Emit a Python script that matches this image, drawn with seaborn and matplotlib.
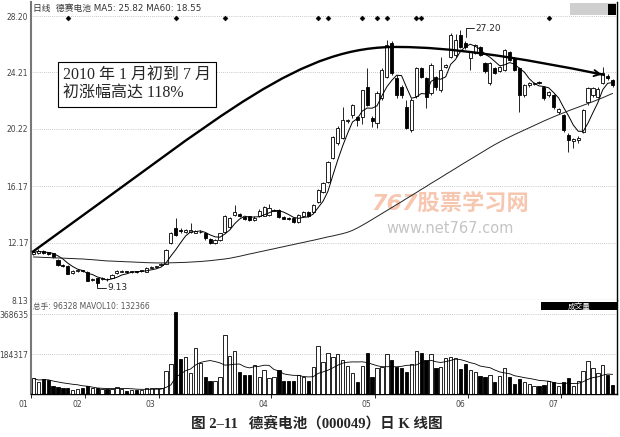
import numpy as np
import pandas as pd
import matplotlib
matplotlib.use("Agg")
import matplotlib.pyplot as plt
import matplotlib.transforms as mtransforms
from matplotlib.path import Path
from matplotlib.patches import PathPatch, Rectangle
import seaborn as sns

# daily K data (mid Jan - mid Jul 2010)
opens = [11.40, 11.45, 11.62, 11.50, 11.42, 10.98, 10.62, 10.55, 10.05, 10.18,
         10.22, 10.10, 9.55, 9.68, 9.62, 9.60, 9.70, 10.02, 10.12, 10.15,
         10.10, 10.15, 10.15, 10.12, 10.42, 10.46, 10.60, 10.70, 12.15, 13.25,
         13.10, 12.95, 12.95, 12.90, 12.92, 12.90, 12.45, 12.15, 12.35, 12.95,
         13.30, 14.15, 14.20, 14.00, 14.05, 13.75, 14.05, 14.10, 14.15, 14.45,
         14.50, 14.02, 13.95, 13.90, 13.65, 14.05, 14.35, 14.35, 15.06, 15.76,
         16.47, 18.17, 19.20, 19.58, 20.75, 21.20, 21.05, 21.06, 23.18, 21.00,
         20.64, 22.41, 23.89, 26.29, 23.82, 23.18, 21.77, 20.14, 22.55, 24.53,
         23.82, 22.76, 23.89, 22.97, 24.60, 25.30, 25.44, 26.86, 26.29, 25.23,
         25.59, 26.00, 24.88, 23.47, 24.53, 24.31, 24.38, 25.66, 25.23, 24.53,
         22.62, 23.32, 23.40, 23.55, 23.18, 22.62, 22.62, 21.45, 21.20, 19.79,
         19.40, 19.44, 20.00, 22.12, 22.62, 22.48, 23.47, 23.95, 23.68]
highs = [11.60, 11.72, 11.66, 11.55, 11.48, 11.02, 10.66, 10.60, 10.28, 10.30,
         10.28, 10.15, 9.70, 9.72, 9.78, 9.68, 9.95, 10.22, 10.22, 10.20,
         10.20, 10.20, 10.28, 10.45, 10.52, 10.56, 10.76, 11.70, 12.95, 13.92,
         13.20, 13.15, 13.58, 13.05, 13.05, 12.95, 12.50, 12.45, 12.90, 14.15,
         14.00, 14.85, 14.25, 14.05, 14.10, 14.05, 14.55, 14.80, 14.95, 14.55,
         14.55, 14.05, 14.00, 13.95, 14.20, 14.42, 14.40, 14.90, 15.95, 16.50,
         17.95, 19.75, 20.40, 21.80, 20.95, 21.95, 21.10, 23.00, 24.53, 21.10,
         22.90, 24.50, 26.50, 26.40, 24.00, 23.30, 22.26, 22.40, 24.60, 24.60,
         23.90, 24.85, 23.95, 25.30, 24.80, 27.00, 26.95, 27.20, 26.40, 25.75,
         26.25, 26.10, 24.95, 24.95, 24.60, 24.65, 25.90, 25.75, 25.30, 24.60,
         23.40, 23.55, 23.55, 23.60, 23.25, 22.90, 22.70, 21.70, 21.30, 19.90,
         19.60, 19.70, 21.65, 23.20, 23.20, 23.15, 24.60, 24.10, 23.75]
lows = [11.30, 11.40, 11.38, 11.30, 11.10, 10.55, 10.45, 9.95, 10.00, 10.10,
        10.10, 9.45, 9.50, 9.13, 9.55, 9.50, 9.65, 9.98, 10.08, 10.05,
        10.05, 10.02, 10.10, 10.08, 10.38, 10.40, 10.55, 10.65, 12.10, 12.65,
        12.90, 12.85, 12.85, 12.85, 12.88, 12.40, 12.10, 12.10, 12.30, 12.90,
        13.25, 14.10, 14.00, 13.80, 13.70, 13.70, 14.00, 14.05, 14.10, 14.40,
        13.95, 13.82, 13.80, 13.55, 13.60, 14.00, 13.98, 14.30, 15.00, 15.70,
        16.40, 18.10, 19.10, 19.50, 20.65, 21.00, 20.40, 20.60, 21.85, 20.35,
        20.30, 22.30, 23.80, 24.00, 22.40, 22.40, 20.20, 20.00, 22.40, 23.80,
        21.70, 22.60, 23.00, 22.80, 24.50, 25.20, 25.30, 25.95, 25.90, 24.38,
        25.50, 25.35, 24.20, 23.30, 24.10, 24.25, 24.30, 25.00, 24.30, 21.40,
        22.50, 23.20, 23.30, 23.40, 22.30, 22.50, 21.60, 21.30, 20.00, 18.60,
        18.90, 19.20, 19.90, 21.90, 22.50, 22.40, 23.40, 23.70, 23.20]
closes = [11.50, 11.62, 11.45, 11.40, 11.15, 10.62, 10.52, 9.98, 10.20, 10.22,
          10.15, 9.48, 9.62, 9.33, 9.70, 9.58, 9.90, 10.15, 10.16, 10.12,
          10.15, 10.08, 10.22, 10.40, 10.46, 10.50, 10.70, 11.66, 12.87, 12.70,
          13.00, 13.05, 13.08, 12.98, 12.96, 12.48, 12.15, 12.40, 12.85, 14.10,
          13.90, 14.35, 14.05, 13.88, 13.75, 13.95, 14.45, 14.70, 14.60, 14.50,
          14.00, 13.88, 13.85, 13.62, 14.15, 14.35, 14.05, 14.84, 15.90, 16.40,
          17.88, 19.65, 20.30, 20.85, 20.85, 21.91, 20.85, 22.97, 21.91, 20.78,
          22.76, 24.38, 26.15, 24.17, 22.62, 22.62, 20.29, 22.26, 24.53, 23.90,
          22.48, 24.74, 23.18, 24.38, 24.74, 26.86, 26.50, 26.01, 26.01, 25.66,
          26.15, 25.44, 24.31, 24.88, 24.17, 24.60, 25.80, 25.09, 24.38, 22.62,
          23.32, 23.47, 23.45, 23.45, 22.41, 22.83, 21.77, 21.60, 20.14, 19.44,
          19.50, 19.60, 21.56, 23.11, 23.11, 23.04, 24.17, 23.82, 23.32]
volumes = [72000, 57000, 68000, 65000, 37000, 34000, 26000, 26000, 18000, 22000,
           26000, 37000, 26000, 26000, 22000, 23000, 22000, 31000, 22000, 15000,
           18000, 18000, 18000, 26000, 26000, 26000, 26000, 107000, 138000, 376000,
           161000, 169000, 95000, 210000, 144000, 80000, 61000, 61000, 77000, 272000,
           175000, 198000, 103000, 88000, 88000, 134000, 80000, 111000, 72000, 80000,
           111000, 61000, 61000, 61000, 88000, 80000, 61000, 123000, 223000, 149000,
           190000, 169000, 184000, 157000, 129000, 95000, 57000, 131000, 187000, 77000,
           118000, 123000, 184000, 157000, 123000, 118000, 103000, 138000, 198000, 190000,
           157000, 184000, 118000, 123000, 164000, 172000, 164000, 114000, 137000, 111000,
           103000, 83000, 77000, 88000, 57000, 83000, 118000, 77000, 46000, 69000,
           57000, 45000, 37000, 37000, 41000, 61000, 57000, 37000, 54000, 72000,
           37000, 61000, 107000, 152000, 118000, 95000, 134000, 88000, 41000]
# 60-day average as drawn (needs data from before the window)
ma60 = [11.17, 11.16, 11.14, 11.13, 11.11, 11.10, 11.09, 11.07, 11.06, 11.04,
        11.03, 11.00, 10.98, 10.95, 10.92, 10.89, 10.88, 10.86, 10.85, 10.83,
        10.82, 10.80, 10.79, 10.77, 10.76, 10.75, 10.75, 10.75, 10.76, 10.77,
        10.78, 10.79, 10.81, 10.83, 10.85, 10.88, 10.91, 10.95, 10.99, 11.03,
        11.08, 11.15, 11.22, 11.30, 11.38, 11.45, 11.53, 11.60, 11.68, 11.75,
        11.83, 11.90, 11.98, 12.05, 12.13, 12.20, 12.28, 12.35, 12.43, 12.51,
        12.59, 12.66, 12.74, 12.82, 12.92, 13.05, 13.22, 13.41, 13.61, 13.82,
        14.03, 14.24, 14.45, 14.66, 14.87, 15.08, 15.30, 15.51, 15.72, 15.94,
        16.15, 16.37, 16.58, 16.79, 17.01, 17.22, 17.43, 17.65, 17.86, 18.07,
        18.28, 18.49, 18.70, 18.91, 19.11, 19.30, 19.48, 19.65, 19.82, 19.98,
        20.14, 20.30, 20.46, 20.62, 20.78, 20.93, 21.08, 21.22, 21.36, 21.50,
        21.63, 21.76, 21.89, 22.02, 22.15, 22.29, 22.43, 22.58, 22.73]

month_labels = ['01', '02', '03', '04', '05', '06', '07']
month_start = [0, 11, 26, 49, 70, 89, 108]
price_ticks = [8.13, 12.17, 16.17, 20.22, 24.21, 28.20]
price_labels = ['8.13', '12.17', '16.17', '20.22', '24.21', '28.20']
vol_ticks = [184317, 368635]
vol_labels = ['184317', '368635']
signal_days = [7, 29, 39, 58, 60, 67, 70, 72, 78, 79, 105]
# hand drawn trend arc: start, bezier controls, top, control, end (bar, price)
arc_x = [-0.3, 40.0, 54.3, 74.7, 88.9, 116.4]
arc_y = [11.5, 21.56, 26.15, 26.01, 26.01, 24.03]

sns.set_theme(style="white")
plt.rcParams['font.family'] = ['DejaVu Sans', 'Noto Sans CJK SC']
plt.rcParams['axes.unicode_minus'] = False

df = pd.DataFrame({'open': opens, 'high': highs, 'low': lows, 'close': closes,
                   'vol': volumes, 'ma60': ma60})
df['day'] = np.arange(len(df))
df['ma5'] = df['close'].rolling(5, min_periods=1).mean()
df['mavol10'] = df['vol'].rolling(10, min_periods=1).mean()
face = np.where(df['close'] >= df['open'], 'white', 'black')

fig = plt.figure(figsize=(6.2, 4.37), dpi=100)
ax = fig.add_axes([0.05, 0.3135, 0.9452, 0.6819])
ax2 = fig.add_axes([0.05, 0.0984, 0.9452, 0.2151])
grey = '#444444'

# --- price panel
ax.vlines(df['day'], df['low'], df['high'], color='black', lw=0.6, zorder=3)
body = (df['close'] - df['open']).abs().clip(lower=0.05)
ax.bar(df['day'], body, bottom=df[['open', 'close']].min(axis=1), width=0.64,
       color=face, edgecolor='black', linewidth=0.6, zorder=4)
sns.lineplot(data=df, x='day', y='ma5', ax=ax, color='black', lw=0.7, zorder=5)
sns.lineplot(data=df, x='day', y='ma60', ax=ax, color='#222222', lw=0.7, zorder=5)
sns.scatterplot(x=signal_days, y=[28.05] * len(signal_days), ax=ax, marker='D',
                s=7, color='black', edgecolor='black', zorder=5)

codes = [Path.MOVETO, Path.CURVE4, Path.CURVE4, Path.CURVE4, Path.CURVE3, Path.CURVE3]
ax.add_patch(PathPatch(Path(list(zip(arc_x, arc_y)), codes), fill=False,
                       lw=1.7, ec='black', zorder=6))
ax.annotate('', xy=(arc_x[-1], arc_y[-1]), xytext=(arc_x[-1] - 2.6, arc_y[-1] + 0.16),
            arrowprops=dict(arrowstyle='->', lw=1.3, color='black', mutation_scale=11),
            zorder=6)

hi = int(np.argmax(highs))
lx = hi + 1.1
ax.plot([lx, lx, lx + 1.6], [highs[hi] - 0.45, highs[hi] + 0.15, highs[hi] + 0.15],
        color='black', lw=0.6, zorder=6)
ax.text(lx + 1.9, highs[hi] + 0.15, f'{highs[hi]:.2f}', fontsize=6.5, va='center')
lo = int(np.argmin(lows))
ax.plot([lo, lo, lo + 1.7], [lows[lo] + 0.15, lows[lo] - 0.12, lows[lo] - 0.12],
        color='black', lw=0.6, zorder=6)
ax.text(lo + 2.0, lows[lo] - 0.12, f'{lows[lo]:.2f}', fontsize=6.5, va='center')

ax.text(0.0546, 0.782, '2010 年 1 月初到 7 月\n初涨幅高达 118%', transform=ax.transAxes,
        va='top', ha='left', fontsize=11.5, linespacing=1.25,
        family=['Liberation Serif', 'Noto Sans CJK SC'], zorder=7,
        bbox=dict(boxstyle='square,pad=0.3', fc='white', ec='black', lw=0.8))

# watermark of the scanned source
ax.text(0.715, 0.3255, '767股票学习网', transform=ax.transAxes, ha='center', va='center',
        fontsize=16, fontweight='bold', style='italic', color='#f2a07b', alpha=0.6, zorder=1)
ax.text(0.715, 0.2416, 'www.net767.com', transform=ax.transAxes, ha='center', va='center',
        fontsize=10.5, color='#c4c4c4', zorder=1)

ax.text(0.004, 0.978, '日线  德赛电池 MA5: 25.82 MA60: 18.55', transform=ax.transAxes,
        fontsize=6.3, color='#333333', va='center')
ax.add_patch(Rectangle((0.92, 0.956), 0.08, 0.04, transform=ax.transAxes,
                       fc='#cfcfcf', ec='none', zorder=7))
ax.add_patch(Rectangle((0.984, 0.958), 0.014, 0.034, transform=ax.transAxes,
                       fc='black', ec='none', zorder=8))

ax.set_xlim(-0.5, 118.9)
ax.set_ylim(8.13, 29.19)
ax.set_xticks([])
ax.set_yticks(price_ticks)
ax.set_yticklabels(price_labels, fontsize=5.5, color=grey)
ax.tick_params(axis='y', length=0, pad=2)
ax.grid(axis='y', ls=(0, (1, 2)), color='#9a9a9a', lw=0.5)
ax.set_xlabel('')
ax.set_ylabel('')

# --- volume panel
ax2.bar(df['day'], df['vol'], width=0.68, color=face, edgecolor='black', linewidth=0.6,
        zorder=3)
sns.lineplot(data=df, x='day', y='mavol10', ax=ax2, color='black', lw=0.6, zorder=4)
ax2.text(0.004, 0.936, '总手: 96328 MAVOL10: 132366', transform=ax2.transAxes,
         fontsize=5.5, color='#555555', va='center')
ax2.add_patch(Rectangle((0.870, 0.894), 0.13, 0.085, transform=ax2.transAxes,
                        fc='black', ec='none', zorder=5))
ax2.text(0.935, 0.936, '成交量', transform=ax2.transAxes, fontsize=5.5, color='white',
         ha='center', va='center', zorder=6)

ax2.set_xlim(-0.5, 118.9)
ax2.set_ylim(0, 433150)
ax2.set_yticks(vol_ticks)
ax2.set_yticklabels(vol_labels, fontsize=5.5, color=grey)
ax2.tick_params(axis='y', length=0, pad=2)
ax2.grid(axis='y', ls=(0, (1, 2)), color='#9a9a9a', lw=0.5)
ax2.set_xticks([m - 0.5 for m in month_start])
ax2.set_xticklabels(month_labels, fontsize=5.5, color=grey, ha='right')
ax2.tick_params(axis='x', direction='out', length=3, width=0.6, color='black', pad=1,
                bottom=True)
shift = mtransforms.ScaledTranslation(-0.03, 0, fig.dpi_scale_trans)
for lab in ax2.get_xticklabels():
    lab.set_transform(lab.get_transform() + shift)
ax2.set_xlabel('')
ax2.set_ylabel('')

for a in (ax, ax2):
    a.spines['top'].set_visible(False)
    a.spines['left'].set_color('#777777')
    a.spines['left'].set_linewidth(1.5)
    a.spines['right'].set_color('black')
    a.spines['right'].set_linewidth(1.0)
ax.spines['bottom'].set_color('#777777')
ax.spines['bottom'].set_linewidth(0.8)
ax2.spines['bottom'].set_color('black')
ax2.spines['bottom'].set_linewidth(1.0)

fig.text(0.511, 0.032, '图 2–11   德赛电池（000049）日 K 线图', ha='center', va='center',
         fontsize=10.5, fontweight='bold', family=['Liberation Serif', 'Noto Sans CJK SC'])

fig.savefig('out.png', dpi=100)
